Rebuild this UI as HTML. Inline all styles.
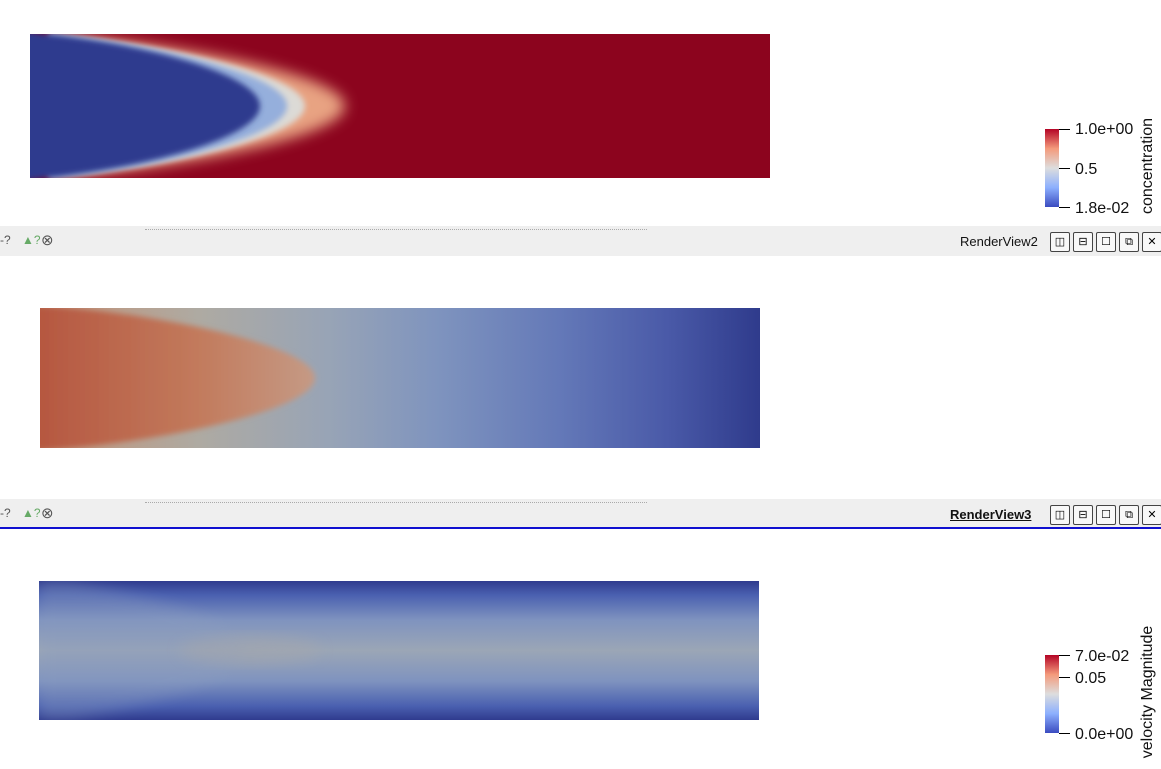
<!DOCTYPE html>
<html><head><meta charset="utf-8"><style>
body{margin:0;width:1161px;height:769px;overflow:hidden;background:#fff;font-family:"Liberation Sans",sans-serif;position:relative}
.bar{position:absolute;left:0;width:1161px;height:30px;background:#efefef}
.dots{position:absolute;left:145px;top:3px;width:502px;border-top:1px dotted #aaa}
.lbl{position:absolute;font-size:13px;color:#111;top:8px}
.btn{position:absolute;top:6px;width:18px;height:18px;border:1px solid #444;border-radius:2px;background:#f8f8f8;font-size:11px;text-align:center;line-height:18px}
.ico{position:absolute;top:7px;font-size:12px;color:#555}
</style></head><body>
<svg width="1161" height="769" style="position:absolute;left:0;top:0">
<defs>
<filter id="b3" x="-20%" y="-20%" width="140%" height="140%"><feGaussianBlur stdDeviation="3"/></filter>
<filter id="b6" x="-20%" y="-20%" width="140%" height="140%"><feGaussianBlur stdDeviation="7"/></filter>
<clipPath id="c1"><rect x="30" y="34" width="740" height="144"/></clipPath>
<clipPath id="c2"><rect x="40" y="308" width="720" height="140"/></clipPath>
<clipPath id="c3"><rect x="39" y="581" width="720" height="139"/></clipPath>
<linearGradient id="g2" x1="0" x2="1">
<stop offset="0" stop-color="#c49478"/><stop offset="0.22" stop-color="#aeaaa2"/><stop offset="0.4" stop-color="#98a4b6"/><stop offset="0.55" stop-color="#7f94be"/><stop offset="0.72" stop-color="#6479b8"/><stop offset="0.87" stop-color="#4a5aa8"/><stop offset="1" stop-color="#2f3b8c"/></linearGradient>
<linearGradient id="g2p" x1="0" x2="1"><stop offset="0" stop-color="#b4533d"/><stop offset="0.6" stop-color="#c27a5c"/><stop offset="1" stop-color="#c59a85"/></linearGradient>
<linearGradient id="g3" x1="0" y1="0" x2="0" y2="1">
<stop offset="0" stop-color="#2f3b8e"/><stop offset="0.1" stop-color="#4a60b0"/><stop offset="0.28" stop-color="#7f93bf"/><stop offset="0.5" stop-color="#9ba6b6"/><stop offset="0.72" stop-color="#7f93bf"/><stop offset="0.9" stop-color="#4a60b0"/><stop offset="1" stop-color="#2f3b8e"/></linearGradient>
<linearGradient id="cb1" x1="0" y1="1" x2="0" y2="0"><stop offset="0" stop-color="#3b4cc0"/><stop offset="0.25" stop-color="#8db0fe"/><stop offset="0.5" stop-color="#dddddd"/><stop offset="0.75" stop-color="#f49a7b"/><stop offset="1" stop-color="#b40426"/></linearGradient>
</defs>
<g clip-path="url(#c1)">
<rect x="30" y="34" width="740" height="144" fill="#8c041e"/>
<path d="M55,34 C185,45 345,75 345,106 C345,137 185,167 55,178 Z" fill="#e8a382" filter="url(#b6)"/>
<path d="M50,34 C170,45 305,75 305,106 C305,137 170,167 50,178 Z" fill="#dcdad6" filter="url(#b3)"/>
<path d="M48,34 C160,45 287,75 287,106 C287,137 160,167 48,178 Z" fill="#95afdc" filter="url(#b3)"/>
<path d="M20,30 L45,34 C150,45 260,75 260,106 C260,137 150,167 45,178 L20,182 Z" fill="#2f3b8e" filter="url(#b3)"/>
</g>
<g clip-path="url(#c2)">
<rect x="40" y="308" width="720" height="140" fill="url(#g2)"/>
<path d="M20,304 L70,308 C180,318 315,348 315,378 C315,408 180,438 70,448 L20,452 Z" fill="url(#g2p)" filter="url(#b3)"/>
</g>
<g clip-path="url(#c3)">
<rect x="39" y="581" width="720" height="139" fill="url(#g3)"/>
<path d="M39,581 L70,581 Q420,650 70,720 L39,720 Z" fill="#8a9cc0" opacity="0.35" filter="url(#b6)"/>
<ellipse cx="250" cy="650" rx="70" ry="14" fill="#a2a6ae" opacity="0.6" filter="url(#b6)"/>
</g>
<g font-size="16" fill="#111">
<rect x="1045" y="129" width="14" height="78" fill="url(#cb1)"/>
<line x1="1059" y1="129.5" x2="1070" y2="129.5" stroke="#000"/>
<line x1="1059" y1="168.5" x2="1070" y2="168.5" stroke="#000"/>
<line x1="1059" y1="207.5" x2="1070" y2="207.5" stroke="#000"/>
<text x="1075" y="134">1.0e+00</text><text x="1075" y="174">0.5</text><text x="1075" y="213">1.8e-02</text>
<text transform="translate(1152,166) rotate(-90)" text-anchor="middle">concentration</text>
</g>
<g font-size="16" fill="#111">
<rect x="1045" y="655" width="14" height="78" fill="url(#cb1)"/>
<line x1="1059" y1="655.5" x2="1070" y2="655.5" stroke="#000"/>
<line x1="1059" y1="677.5" x2="1070" y2="677.5" stroke="#000"/>
<line x1="1059" y1="733.5" x2="1070" y2="733.5" stroke="#000"/>
<text x="1075" y="661">7.0e-02</text><text x="1075" y="683">0.05</text><text x="1075" y="739">0.0e+00</text>
<text transform="translate(1152,692) rotate(-90)" text-anchor="middle">velocity Magnitude</text>
</g>
</svg>
<div class="bar" style="top:226px">
<div class="dots"></div>
<span class="ico" style="left:0">-?</span><span class="ico" style="left:22px;color:#6a6">▲?</span><span class="ico" style="left:41px;font-size:15px;top:5px">⊗</span>
<span class="lbl" style="left:960px">RenderView2</span>
<div class="btn" style="left:1050px">◫</div>
<div class="btn" style="left:1073px">⊟</div>
<div class="btn" style="left:1096px">☐</div>
<div class="btn" style="left:1119px">⧉</div>
<div class="btn" style="left:1142px">✕</div>
</div>
<div class="bar" style="top:499px;border-bottom:2px solid #1010d0;height:28px">
<div class="dots"></div>
<span class="ico" style="left:0">-?</span><span class="ico" style="left:22px;color:#6a6">▲?</span><span class="ico" style="left:41px;font-size:15px;top:5px">⊗</span>
<span class="lbl" style="left:950px;font-weight:bold;text-decoration:underline">RenderView3</span>
<div class="btn" style="left:1050px">◫</div>
<div class="btn" style="left:1073px">⊟</div>
<div class="btn" style="left:1096px">☐</div>
<div class="btn" style="left:1119px">⧉</div>
<div class="btn" style="left:1142px">✕</div>
</div>
</body></html>
